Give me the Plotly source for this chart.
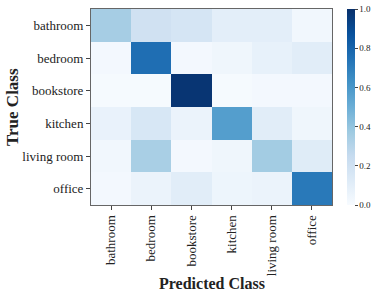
import plotly.graph_objects as go

classes = ["bathroom", "bedroom", "bookstore", "kitchen", "living room", "office"]
row_bathroom = [0.35, 0.20, 0.17, 0.10, 0.10, 0.03]
row_bedroom = [0.02, 0.76, 0.02, 0.04, 0.08, 0.11]
row_bookstore = [0.01, 0.01, 0.98, 0.01, 0.02, 0.02]
row_kitchen = [0.07, 0.16, 0.06, 0.57, 0.11, 0.04]
row_living = [0.03, 0.34, 0.02, 0.04, 0.36, 0.12]
row_office = [0.02, 0.06, 0.11, 0.05, 0.06, 0.72]
z = [row_bathroom, row_bedroom, row_bookstore, row_kitchen, row_living, row_office]

font_family = "Liberation Serif, DejaVu Serif, serif"

W, H = 381, 296
L, R, T, B = 91, 49, 9, 91
pw, ph = W - L - R, H - T - B

fig = go.Figure(go.Heatmap(
    z=z, x=classes, y=classes, colorscale="Blues", zmin=0, zmax=1,
    colorbar=dict(
        thickness=8, len=1.0, lenmode="fraction", x=(347 - L) / pw, xanchor="left",
        y=0.5, yanchor="middle", outlinewidth=0, xpad=0, ypad=0,
        tickvals=[0, 0.2, 0.4, 0.6, 0.8, 1.0], ticktext=["0.0", "0.2", "0.4", "0.6", "0.8", "1.0"],
        ticks="outside", ticklen=3, tickfont=dict(size=9, family=font_family, color="#222"),
    ),
    xgap=0, ygap=0,
))

fig.update_layout(
    width=W, height=H,
    margin=dict(l=L, r=R, t=T, b=B, autoexpand=False),
    paper_bgcolor="white", plot_bgcolor="white",
    font=dict(family=font_family, color="#222"),
    xaxis=dict(
        tickangle=-90, tickfont=dict(size=13), ticks="outside", ticklen=4,
        showline=True, linecolor="#666", linewidth=1, mirror=True, automargin=False,
    ),
    yaxis=dict(
        autorange="reversed", tickfont=dict(size=13), ticks="outside", ticklen=4,
        showline=True, linecolor="#666", linewidth=1, mirror=True, automargin=False,
    ),
    annotations=[
        dict(text="<b>Predicted Class</b>", xref="paper", yref="paper",
             x=0.5, y=(T + ph - 283) / ph, xanchor="center", yanchor="middle",
             showarrow=False, font=dict(size=16)),
        dict(text="<b>True Class</b>", xref="paper", yref="paper",
             x=(12 - L) / pw, y=0.5, xanchor="center", yanchor="middle",
             textangle=-90, showarrow=False, font=dict(size=17)),
    ],
)

fig.write_html(
    "out.html",
    config={"displayModeBar": False},
    post_script="document.body.style.margin='0';document.documentElement.style.overflow='hidden';",
)
